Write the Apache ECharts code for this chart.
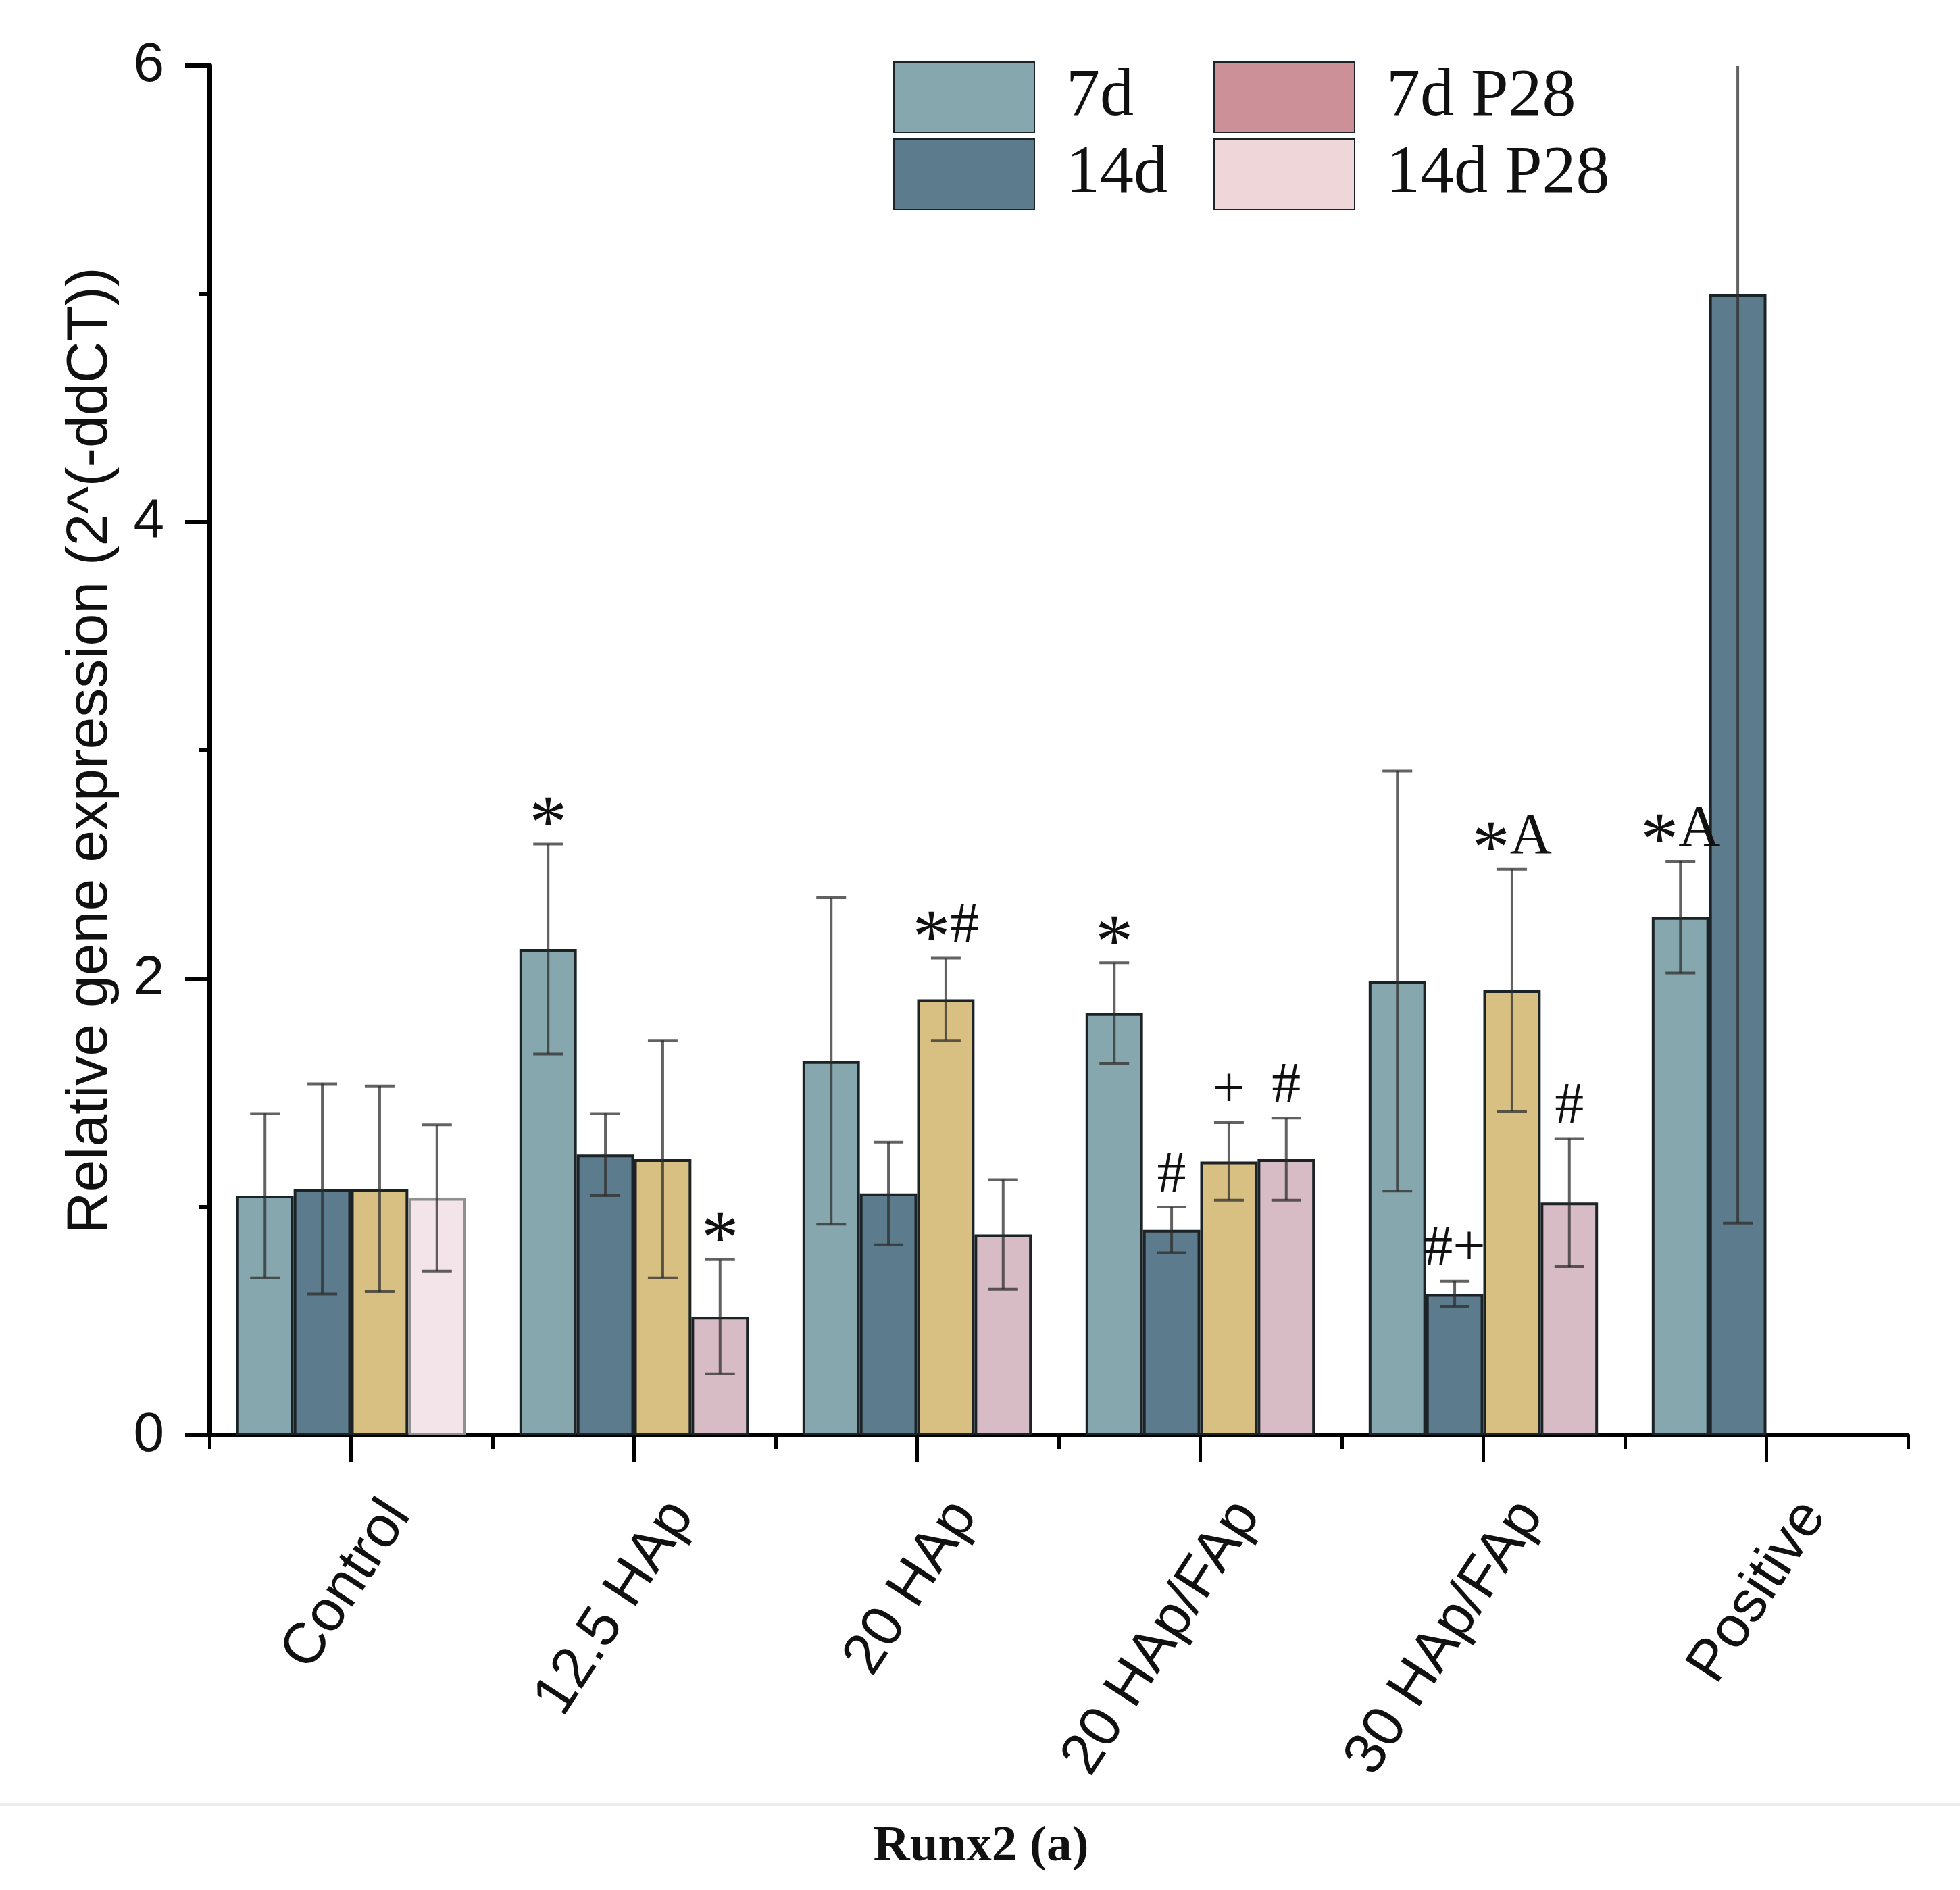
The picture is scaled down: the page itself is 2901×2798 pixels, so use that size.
<!DOCTYPE html>
<html>
<head>
    <meta http-equiv="Content-Type" content="text/html; charset=utf-8"/>
    <script src="https://cdn.jsdelivr.net/npm/echarts@6/dist/echarts.min.js"></script>
    <style>
        html, body {margin: 0; padding: 0; background: #fff;}
        #chart {width: 2901px; height: 2798px;}
    </style>
</head>
<body>
<div id="chart"></div>
<script type="text/javascript">
    // groups on the x axis
    var categories = ['Control', '12.5 HAp', '20 HAp', '20 HAp/FAp', '30 HAp/FAp', 'Positive'];
    var yTicks = [0, 2, 4, 6];

    // mean values and error (half length) per series
    var d7 = [1.05, 2.13, 1.64, 1.85, 1.99, 2.27];
    var d7Err = [0.36, 0.46, 0.715, 0.22, 0.92, 0.245];
    var d14 = [1.08, 1.23, 1.06, 0.90, 0.62, 5.00];
    var d14Err = [0.46, 0.18, 0.225, 0.10, 0.055, 4.07];
    var p7 = [1.08, 1.21, 1.91, 1.20, 1.95, null];
    var p7Err = [0.45, 0.52, 0.18, 0.17, 0.53, null];
    var p14 = [1.04, 0.52, 0.88, 1.21, 1.02, null];
    var p14Err = [0.32, 0.25, 0.24, 0.18, 0.28, null];

    // significance marks above the error bars
    var d7Marks = ['', '*', '', '*', '', '*A'];
    var d14Marks = ['', '', '', '#', '#+', ''];
    var p7Marks = ['', '', '*#', '+', '*A', ''];
    var p14Marks = ['', '*', '', '#', '#', ''];

    var yMax = yTicks[yTicks.length - 1];
    var nSlots = 4;
    var groupFrac = 0.81;

    function barData(vals, seriesIdx) {
        return vals.map(function (v, i) {
            // control bar of the last series is lighter
            if (seriesIdx === 3 && i === 0) {
                return {value: v, itemStyle: {color: '#f3e4e9', borderColor: '#8f8f8f'}};
            }
            return v;
        });
    }

    // asterisk is drawn bigger and pulled down to the middle of the line
    function markText(m) {
        return m.split('').map(function (c) {
            return c === '*' ? '{s|*}' : '{t|' + c + '}';
        }).join('');
    }
    var markRich = {
        s: {fontFamily: 'Liberation Serif', fontSize: 112, fill: '#111', padding: [42, 0, 0, 0]},
        t: {fontFamily: 'Liberation Serif', fontSize: 86, fill: '#111'}
    };

    function errSeries(vals, errs, marks, seriesIdx) {
        var data = [];
        vals.forEach(function (v, i) {
            if (v !== null) data.push([i, v, errs[i]]);
        });
        return {
            type: 'custom',
            xAxisIndex: 0,
            yAxisIndex: 0,
            z: 5,
            silent: true,
            clip: false,
            encode: {x: 0, y: 1},
            data: data,
            renderItem: function (params, api) {
                var i = api.value(0), v = api.value(1), e = api.value(2);
                var band = api.size([1, 0])[0];
                var bw = band * groupFrac / nSlots;
                var cx = api.coord([i, 0])[0] - band * groupFrac / 2 + bw * (seriesIdx + 0.5);
                var hi = v + e;
                var yHi = api.coord([i, Math.min(hi, yMax)])[1];
                var yLo = api.coord([i, v - e])[1];
                var cap = 22;
                var st = {stroke: 'rgba(45,45,45,0.75)', lineWidth: 4};
                var kids = [
                    {type: 'line', shape: {x1: cx, y1: yHi, x2: cx, y2: yLo}, style: st},
                    {type: 'line', shape: {x1: cx - cap, y1: yLo, x2: cx + cap, y2: yLo}, style: st}
                ];
                if (hi <= yMax) {
                    kids.push({type: 'line', shape: {x1: cx - cap, y1: yHi, x2: cx + cap, y2: yHi}, style: st});
                }
                var m = marks[i];
                if (m) {
                    kids.push({
                        type: 'text', x: cx, y: yHi - 46,
                        style: {
                            text: markText(m), rich: markRich,
                            fontFamily: 'Liberation Serif', fontSize: 86,
                            fill: '#111', align: 'center', verticalAlign: 'middle'
                        }
                    });
                }
                return {type: 'group', children: kids};
            }
        };
    }

    var border = {borderColor: '#1b2326', borderWidth: 4};
    var legendText = {fontFamily: 'Liberation Serif', fontSize: 100, color: '#111', padding: [8, 0, 0, 42]};

    var myChart = echarts.init(document.getElementById('chart'));
    var option = {
        backgroundColor: '#fff',
        animation: false,
        grid: {left: 310, right: 77, top: 97, bottom: 673},
        legend: [
            {
                left: 1317, top: 86, orient: 'vertical', icon: 'rect',
                itemWidth: 208, itemHeight: 104, itemGap: 8, selectedMode: false,
                data: ['7d', '14d'],
                textStyle: legendText
            },
            {
                left: 1791, top: 86, orient: 'vertical', icon: 'rect',
                itemWidth: 208, itemHeight: 104, itemGap: 8, selectedMode: false,
                data: [
                    {name: '7d P28', itemStyle: {color: '#cc9098'}},
                    {name: '14d P28', itemStyle: {color: '#efd6d8'}}
                ],
                textStyle: legendText
            }
        ],
        xAxis: [
            {
                type: 'category', data: categories, position: 'bottom',
                axisLine: {show: true, lineStyle: {color: '#000', width: 6}},
                axisTick: {show: true, alignWithLabel: true, length: 40, lineStyle: {color: '#000', width: 5}},
                axisLabel: {
                    interval: 0, rotate: 57, margin: 60,
                    align: 'right', verticalAlign: 'top', padding: [40, 0, 0, 0],
                    fontFamily: 'Liberation Sans', fontSize: 86, color: '#111'
                },
                splitLine: {show: false}
            },
            {
                type: 'category', data: categories, position: 'bottom',
                axisLine: {show: false},
                axisTick: {show: true, length: 20, lineStyle: {color: '#000', width: 5}},
                axisLabel: {show: false},
                splitLine: {show: false}
            }
        ],
        yAxis: {
            type: 'value', min: yTicks[0], max: yMax, interval: 2,
            name: 'Relative gene expression (2^(-ddCT))',
            nameLocation: 'middle', nameGap: 133,
            nameTextStyle: {fontFamily: 'Liberation Sans', fontSize: 86, color: '#111'},
            axisLine: {show: true, lineStyle: {color: '#000', width: 7}},
            axisTick: {show: true, length: 36, lineStyle: {color: '#000', width: 6}},
            minorTick: {show: true, splitNumber: 2, length: 16, lineStyle: {color: '#000', width: 6}},
            axisLabel: {margin: 67, fontFamily: 'Liberation Sans', fontSize: 82, color: '#111'},
            splitLine: {show: false}
        },
        series: [
            {name: '7d', type: 'bar', data: barData(d7, 0), barGap: '0%', barCategoryGap: '19%',
                itemStyle: Object.assign({color: '#87a7ae'}, border)},
            {name: '14d', type: 'bar', data: barData(d14, 1), barGap: '0%', barCategoryGap: '19%',
                itemStyle: Object.assign({color: '#5c7b8c'}, border)},
            {name: '7d P28', type: 'bar', data: barData(p7, 2), barGap: '0%', barCategoryGap: '19%',
                itemStyle: Object.assign({color: '#d8bf82'}, border)},
            {name: '14d P28', type: 'bar', data: barData(p14, 3), barGap: '0%', barCategoryGap: '19%',
                itemStyle: Object.assign({color: '#d8bcc5'}, border)},
            errSeries(d7, d7Err, d7Marks, 0),
            errSeries(d14, d14Err, d14Marks, 1),
            errSeries(p7, p7Err, p7Marks, 2),
            errSeries(p14, p14Err, p14Marks, 3)
        ],
        graphic: [
            {type: 'line', shape: {x1: 0, y1: 2671, x2: 2901, y2: 2671}, style: {stroke: '#ececec', lineWidth: 4}},
            {
                type: 'text', x: 1452, y: 2735,
                style: {
                    text: 'Runx2 (a)', fontFamily: 'Liberation Serif', fontWeight: 'bold', fontSize: 75,
                    fill: '#111', align: 'center', verticalAlign: 'middle'
                }
            }
        ]
    };
    myChart.setOption(option);
</script>
</body>
</html>
